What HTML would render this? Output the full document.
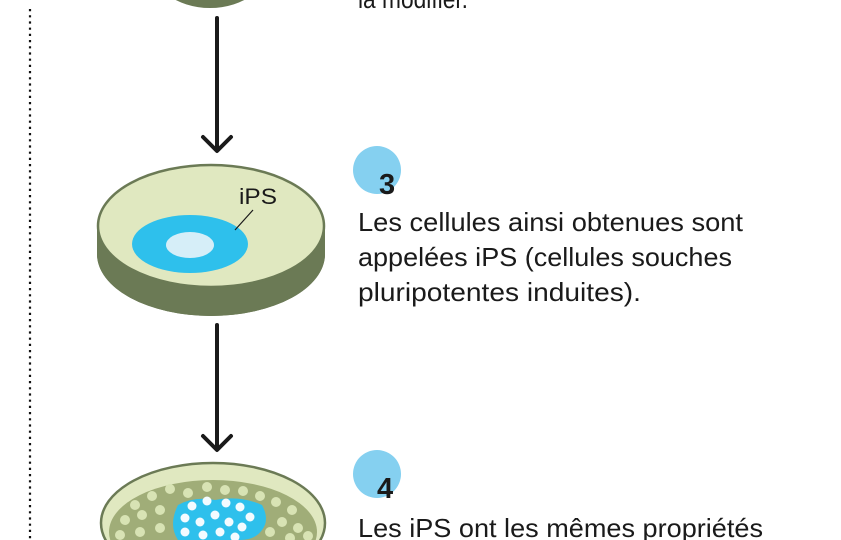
<!DOCTYPE html>
<html><head><meta charset="utf-8"><style>
html,body{margin:0;padding:0;background:#fff;width:841px;height:540px;overflow:hidden}
svg{display:block;overflow:hidden}
text{font-family:"Liberation Sans","DejaVu Sans",sans-serif;fill:#1a1a1a}
</style></head><body>
<svg width="841" height="540" viewBox="0 0 841 540">
<line x1="30" y1="9" x2="30" y2="540" stroke="#111" stroke-width="2.2" stroke-dasharray="2.2 4"/>
<ellipse cx="210" cy="-40" rx="62" ry="48" fill="#6b7a55"/>
<text x="358" y="8" font-size="26" textLength="110" lengthAdjust="spacingAndGlyphs">la modifier.</text>
<line x1="217" y1="18" x2="217" y2="150" stroke="#1a1a1a" stroke-width="4" stroke-linecap="round"/>
<polyline points="203,137 217,151 231,137" fill="none" stroke="#1a1a1a" stroke-width="4" stroke-linecap="round" stroke-linejoin="round"/>
<path d="M97,226 L97,254 A114,62 0 0 0 325,254 L325,226 Z" fill="#6b7a55"/>
<ellipse cx="211" cy="254" rx="114" ry="62" fill="#6b7a55"/>
<ellipse cx="211" cy="226" rx="113" ry="61" fill="#e0e8c0" stroke="#6b7a55" stroke-width="2.5"/>
<ellipse cx="190" cy="244" rx="58" ry="29" fill="#2ec0ec"/>
<ellipse cx="190" cy="245" rx="24" ry="13" fill="#d6eef8"/>
<line x1="253" y1="210" x2="235" y2="230" stroke="#1a1a1a" stroke-width="1.2"/>
<text x="239" y="204" font-size="22" textLength="38" lengthAdjust="spacingAndGlyphs">iPS</text>
<circle cx="377" cy="170" r="24" fill="#85d0f0"/>
<text x="379" y="194" font-size="29" font-weight="bold">3</text>
<text x="358" y="231" font-size="26" textLength="385" lengthAdjust="spacingAndGlyphs">Les cellules ainsi obtenues sont</text>
<text x="358" y="266" font-size="26" textLength="374" lengthAdjust="spacingAndGlyphs">appelées iPS (cellules souches</text>
<text x="358" y="301" font-size="26" textLength="283" lengthAdjust="spacingAndGlyphs">pluripotentes induites).</text>
<line x1="217" y1="325" x2="217" y2="449" stroke="#1a1a1a" stroke-width="4" stroke-linecap="round"/>
<polyline points="203,436 217,450 231,436" fill="none" stroke="#1a1a1a" stroke-width="4" stroke-linecap="round" stroke-linejoin="round"/>
<ellipse cx="213" cy="523" rx="112" ry="60" fill="#e0e8c0" stroke="#6b7a55" stroke-width="2.5"/>
<ellipse cx="213" cy="532" rx="104" ry="52" fill="#a0ad78"/>
<g fill="#d8e3b4">
<circle cx="135" cy="505" r="5"/><circle cx="152" cy="496" r="5"/><circle cx="170" cy="489" r="5"/><circle cx="188" cy="493" r="5"/><circle cx="207" cy="487" r="5"/><circle cx="225" cy="490" r="5"/><circle cx="243" cy="491" r="5"/><circle cx="260" cy="496" r="5"/><circle cx="276" cy="502" r="5"/><circle cx="292" cy="510" r="5"/>
<circle cx="125" cy="520" r="5"/><circle cx="142" cy="515" r="5"/><circle cx="160" cy="510" r="5"/><circle cx="282" cy="522" r="5"/><circle cx="298" cy="528" r="5"/><circle cx="120" cy="535" r="5"/><circle cx="140" cy="532" r="5"/><circle cx="160" cy="528" r="5"/><circle cx="270" cy="532" r="5"/><circle cx="290" cy="538" r="5"/><circle cx="308" cy="536" r="5"/>
</g>
<path d="M178,505 Q195,496 215,500 Q240,495 262,505 Q270,520 262,530 Q255,540 240,540 L178,540 Q168,525 178,505 Z" fill="#2ec0ec"/>
<g fill="#f4fbff">
<circle cx="192" cy="506" r="4.5"/><circle cx="207" cy="501" r="4.5"/><circle cx="226" cy="503" r="4.5"/><circle cx="240" cy="507" r="4.5"/><circle cx="250" cy="517" r="4.5"/>
<circle cx="185" cy="518" r="4.5"/><circle cx="200" cy="522" r="4.5"/><circle cx="215" cy="515" r="4.5"/><circle cx="229" cy="522" r="4.5"/><circle cx="242" cy="527" r="4.5"/>
<circle cx="185" cy="532" r="4.5"/><circle cx="203" cy="535" r="4.5"/><circle cx="220" cy="532" r="4.5"/><circle cx="235" cy="537" r="4.5"/>
</g>
<circle cx="377" cy="474" r="24" fill="#85d0f0"/>
<text x="377" y="498" font-size="29" font-weight="bold">4</text>
<text x="358" y="537" font-size="26" textLength="405" lengthAdjust="spacingAndGlyphs">Les iPS ont les mêmes propriétés</text>
</svg>
</body></html>
